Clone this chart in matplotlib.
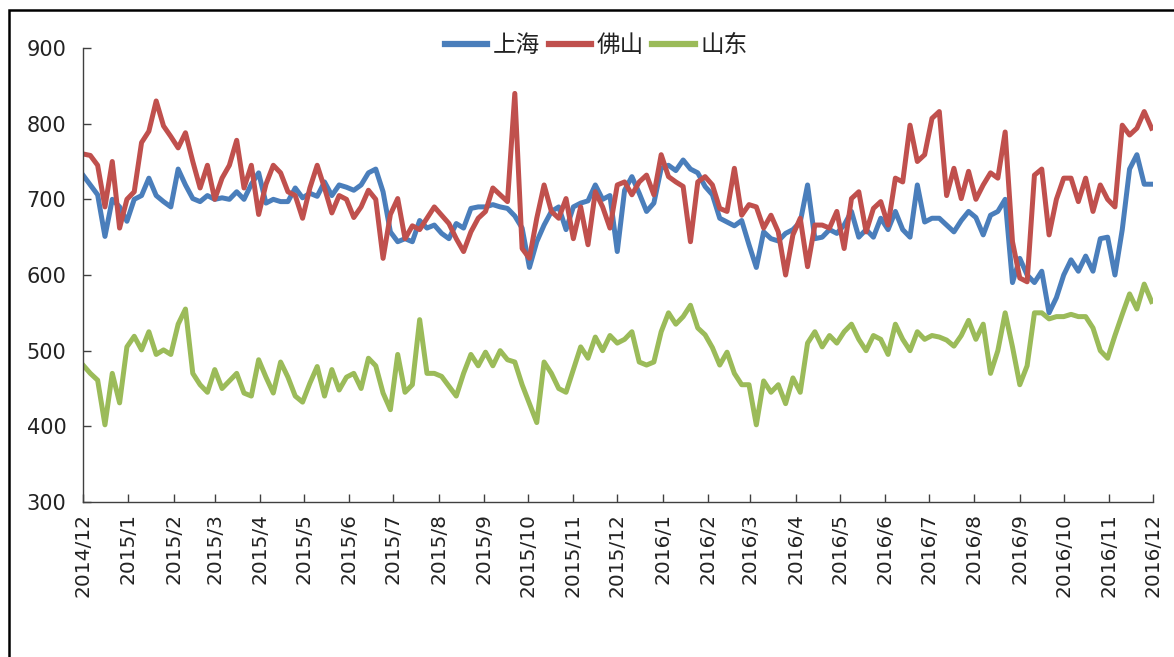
import matplotlib
matplotlib.use("Agg")
import matplotlib.pyplot as plt
from matplotlib.patches import Rectangle
import pandas as pd

plt.rcParams['font.family'] = ['Noto Sans CJK SC', 'DejaVu Sans']

# ---------------- data ----------------
start_date = "2014-12-01"
step = "5D"

shanghai = [732, 719, 706, 651, 700, 690, 671, 700, 705, 728,
            705, 697, 690, 740, 719, 701, 697, 705, 700, 702,
            700, 710, 700, 720, 735, 695, 700, 697, 697, 715,
            702, 708, 704, 723, 705, 719, 716, 712, 719, 735,
            740, 710, 657, 644, 648, 644, 672, 662, 666, 655,
            648, 668, 662, 688, 690, 690, 693, 690, 688, 678,
            662, 610, 644, 666, 684, 690, 660, 690, 695, 698,
            719, 700, 705, 631, 712, 730, 708, 684, 695, 741,
            745, 738, 752, 740, 735, 717, 706, 675, 670, 665,
            672, 640, 610, 657, 648, 645, 655, 660, 670, 719,
            648, 650, 660, 655, 666, 684, 650, 660, 650, 675,
            660, 684, 660, 650, 719, 670, 675, 675, 666, 657,
            672, 684, 676, 653, 679, 684, 700, 590, 622, 600,
            590, 605, 550, 570, 600, 620, 605, 625, 605, 648,
            650, 600, 660, 740, 759, 720, 720]

foshan = [760, 758, 745, 690, 750, 662, 700, 710, 775, 790,
          830, 797, 783, 768, 788, 750, 715, 745, 700, 728,
          745, 778, 715, 745, 680, 720, 745, 735, 710, 705,
          675, 715, 745, 715, 682, 705, 700, 676, 690, 712,
          700, 622, 680, 701, 648, 665, 660, 675, 690, 679,
          668, 648, 631, 657, 675, 684, 715, 706, 697, 840,
          635, 622, 675, 719, 684, 675, 701, 648, 690, 640,
          710, 690, 662, 719, 723, 706, 723, 732, 706, 759,
          730, 723, 717, 644, 723, 730, 719, 688, 684, 741,
          679, 693, 690, 662, 679, 657, 600, 653, 675, 611,
          666, 666, 662, 684, 635, 701, 710, 657, 688, 697,
          666, 728, 723, 798, 750, 759, 807, 816, 705, 741,
          701, 737, 700, 719, 735, 728, 789, 644, 596, 591,
          732, 740, 653, 700, 728, 728, 697, 728, 684, 719,
          700, 690, 798, 785, 794, 816, 794]

shandong = [481, 470, 461, 402, 470, 431, 505, 519, 501, 525,
            495, 501, 495, 535, 555, 470, 455, 445, 475, 450,
            460, 470, 444, 440, 488, 465, 444, 485, 465, 440,
            432, 457, 479, 440, 475, 448, 465, 470, 450, 490,
            480, 444, 422, 495, 445, 455, 541, 470, 470, 466,
            453, 440, 470, 495, 480, 498, 480, 500, 488, 485,
            455, 430, 405, 485, 470, 450, 445, 475, 505, 490,
            518, 500, 520, 510, 515, 525, 485, 481, 485, 525,
            550, 535, 545, 560, 530, 521, 504, 481, 498, 470,
            455, 455, 402, 460, 445, 455, 430, 464, 445, 510,
            525, 505, 520, 510, 525, 535, 515, 500, 520, 515,
            495, 535, 515, 500, 525, 515, 520, 518, 514, 506,
            520, 540, 515, 535, 470, 500, 550, 505, 455, 480,
            550, 550, 542, 545, 545, 548, 545, 545, 530, 500,
            490, 520, 548, 575, 555, 588, 565]

series_names = ["上海", "佛山", "山东"]
series_colors = ["#4A7EBB", "#C0504D", "#9BBB59"]

tick_labels = ["2014/12", "2015/1", "2015/2", "2015/3", "2015/4", "2015/5",
               "2015/6", "2015/7", "2015/8", "2015/9", "2015/10", "2015/11",
               "2015/12", "2016/1", "2016/2", "2016/3", "2016/4", "2016/5",
               "2016/6", "2016/7", "2016/8", "2016/9", "2016/10", "2016/11",
               "2016/12"]
y_ticks = [300, 400, 500, 600, 700, 800, 900]

# ---------------- plot ----------------
dates = pd.date_range(start_date, periods=len(shanghai), freq=step)
tick_dates = pd.to_datetime(tick_labels, format="%Y/%m")

fig = plt.figure(figsize=(11.74, 6.57), dpi=100)
ax = fig.add_axes([83 / 1174, 1 - 502 / 657, (1153 - 83) / 1174, (502 - 48) / 657])

for vals, name, col in zip([shanghai, foshan, shandong], series_names, series_colors):
    ax.plot(dates, vals, color=col, lw=3.6, label=name)

ax.set_xlim(tick_dates[0], tick_dates[-1])
ax.set_ylim(y_ticks[0], y_ticks[-1])
ax.set_yticks(y_ticks)
ax.set_xticks(tick_dates)
ax.set_xticklabels(tick_labels, rotation=90, ha='center', va='top',
                   family='DejaVu Sans')
ax.set_yticklabels([str(v) for v in y_ticks], family='DejaVu Sans')

for s in ['top', 'right']:
    ax.spines[s].set_visible(False)
for s in ['left', 'bottom']:
    ax.spines[s].set_color('#404040')
    ax.spines[s].set_linewidth(1.0)

ax.tick_params(axis='y', direction='in', length=6, width=1.0, color='#404040',
               labelsize=15, pad=12, labelcolor='#222222')
ax.tick_params(axis='x', direction='in', length=6, width=1.0, color='#404040',
               labelsize=14.5, pad=8, labelcolor='#222222')

leg = fig.legend(loc='center', bbox_to_anchor=(0.508, 0.931), ncol=3, frameon=False,
                 fontsize=17, handlelength=1.8, handletextpad=0.25,
                 columnspacing=0.35, borderaxespad=0)
for line in leg.get_lines():
    line.set_linewidth(4.5)
for t in leg.get_texts():
    t.set_color('#222222')

# outer frame
fig.patches.append(Rectangle((9 / 1174, -0.1), 1.2, 1 - 10 / 657 + 0.1,
                             transform=fig.transFigure, fill=False,
                             edgecolor='black', linewidth=1.8, clip_on=False))

fig.savefig("out.png", dpi=100)
